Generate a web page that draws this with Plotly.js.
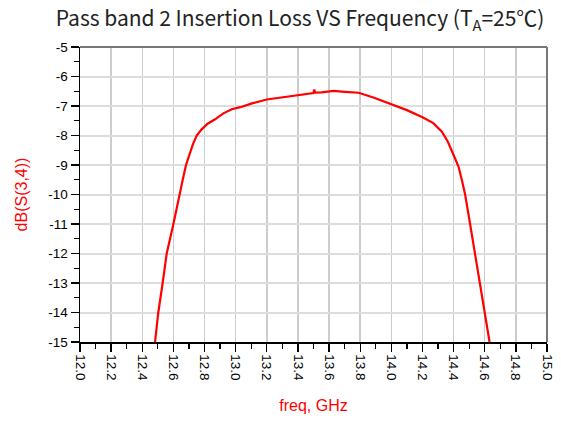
<!DOCTYPE html>
<html>
<head>
<meta charset="utf-8">
<script src="https://cdn.plot.ly/plotly-3.0.1.min.js"></script>
<style>html,body{margin:0;padding:0;background:#fff;}#chart{width:561px;height:421px;}</style>
</head>
<body>
<div id="chart"></div>
<script>
const freqGHz = [12.482, 12.503, 12.531, 12.557, 12.600, 12.638, 12.660, 12.681, 12.700, 12.725, 12.750, 12.780, 12.820, 12.868, 12.921, 12.975, 13.03,
  13.1, 13.2, 13.3, 13.4, 13.5, 13.505, 13.51, 13.55, 13.6, 13.63, 13.7, 13.79, 13.885, 14.0, 14.1, 14.2, 14.27,
  14.325, 14.363, 14.4, 14.432, 14.453, 14.474, 14.506, 14.538, 14.571, 14.603, 14.631];
const s34dB = [-15, -14, -13, -12, -11, -10, -9.5, -9, -8.7, -8.3, -8.0, -7.8, -7.6, -7.45, -7.25, -7.11, -7.04,
  -6.92, -6.78, -6.70, -6.63, -6.56, -6.44, -6.55, -6.54, -6.52, -6.49, -6.52, -6.55, -6.71, -6.95, -7.14, -7.38, -7.58,
  -7.87, -8.21, -8.66, -9.06, -9.51, -10.0, -11, -12, -13, -14, -15];
const yTickVals = [-5, -6, -7, -8, -9, -10, -11, -12, -13, -14, -15];
const yTickText = ["-5", "-6", "-7", "-8", "-9", "-10", "-11", "-12", "-13", "-14", "-15"];
const xTickVals = [12.0, 12.2, 12.4, 12.6, 12.8, 13.0, 13.2, 13.4, 13.6, 13.8, 14.0, 14.2, 14.4, 14.6, 14.8, 15.0];

const trace = {
  x: freqGHz, y: s34dB, type: 'scatter', mode: 'lines',
  line: {color: '#ff0000', width: 2.2}, hoverinfo: 'skip'
};

const layout = {
  width: 561, height: 421,
  margin: {l: 80, r: 14, t: 47, b: 79},
  paper_bgcolor: '#fff', plot_bgcolor: '#fff',
  showlegend: false,
  font: {family: '"Liberation Sans", Arial, sans-serif', color: '#000', size: 13},
  title: {
    text: 'Pass band 2 Insertion Loss VS Frequency (T<sub>A</sub>=25℃)',
    font: {family: '"Noto Sans CJK SC", "Noto Sans", sans-serif', size: 21, color: '#222'},
    x: 0.535, xanchor: 'center', y: 0.955, yanchor: 'middle'
  },
  xaxis: {
    range: [12.0, 15.0], tickvals: xTickVals, tickformat: '.1f', tickangle: 90,
    showgrid: true, gridcolor: '#cccccc', gridwidth: 1.5,
    ticks: 'outside', ticklen: 8, tickwidth: 1.3, tickcolor: '#000',
    minor: {dtick: 0.1, tick0: 12.0, ticks: 'outside', ticklen: 5, tickwidth: 1.3, tickcolor: '#000', showgrid: false},
    showline: true, linecolor: '#000', linewidth: 1.5,
    zeroline: false, tickfont: {size: 13.5, color: '#000'},
    title: {text: 'freq, GHz', font: {size: 16, color: '#ff0000'}, standoff: 20}
  },
  yaxis: {
    range: [-15, -5], tickvals: yTickVals, ticktext: yTickText,
    showgrid: true, gridcolor: '#dddddd', gridwidth: 2,
    ticks: 'outside', ticklen: 8, tickwidth: 1.3, tickcolor: '#000',
    minor: {dtick: 0.5, tick0: -15, ticks: 'outside', ticklen: 5, tickwidth: 1.3, tickcolor: '#000', showgrid: false},
    showline: true, linecolor: '#000', linewidth: 1.5,
    zeroline: false, tickfont: {size: 13.5, color: '#000'},
    title: {text: 'dB(S(3,4))', font: {size: 16, color: '#ff0000'}, standoff: 16}
  },
  shapes: [
    {type: 'line', xref: 'paper', yref: 'paper', x0: 0, x1: 1, y0: 1, y1: 1, line: {color: '#777', width: 2}},
    {type: 'line', xref: 'paper', yref: 'paper', x0: 1, x1: 1, y0: 0, y1: 1, line: {color: '#777', width: 2}}
  ]
};

Plotly.newPlot('chart', [trace], layout, {staticPlot: true, displayModeBar: false});
</script>
</body>
</html>
